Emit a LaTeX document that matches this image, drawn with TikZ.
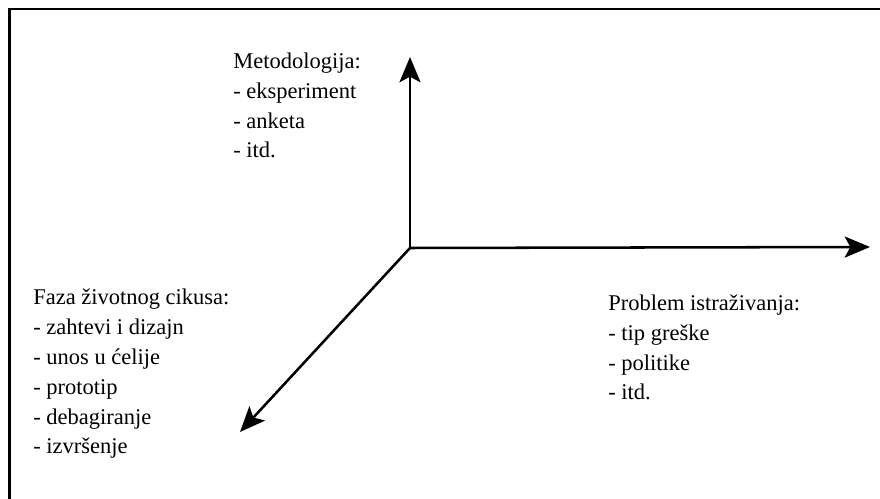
\documentclass[tikz,border=0pt]{standalone}
\usepackage{fontspec}
\setmainfont{Liberation Serif}
\usepackage{tikz}
\usetikzlibrary{arrows.meta}
\usepackage{xcolor}

\tikzset{
	axis/.style={line width=1.8pt,-{Stealth[length=18pt,width=15pt,inset=4pt]}},
	lista/.style={align=left,anchor=base west,inner sep=0pt,font=\fontsize{16}{21.3}\selectfont}
}

\begin{document}
\begin{tikzpicture}
		
		\useasboundingbox (0,0) rectangle (22,12.475);
		
		\draw[line width=1.8pt,line join=miter] (0.2375,0) -- (0.2375,12.25) -- (22,12.25);
		
		\coordinate (O) at (10.25,6.275);
		\coordinate (metod) at (10.25,11.05);
		\coordinate (problem) at (21.75,6.3);
		\coordinate (faza) at (6.0,1.675);
		
		\draw[axis] (O) -- (metod);
		\draw[axis] (O) -- (problem);
		\draw[axis] (O) -- (faza);
		
		% base = baseline of the last line
		\node[lista] (metodtxt) at (5.825,8.525) {Metodologija:\\- eksperiment\\- anketa\\- itd.};
		
		\node[lista] (fazatxt) at (0.825,1.125) {Faza životnog cikusa:\\- zahtevi i dizajn\\- unos u ćelije\\- prototip\\- debagiranje\\- izvršenje};
		
		\node[lista] (problemtxt) at (15.2,2.475) {Problem istraživanja:\\- tip greške\\- politike\\- itd.};
		
	\end{tikzpicture}
\end{document}
